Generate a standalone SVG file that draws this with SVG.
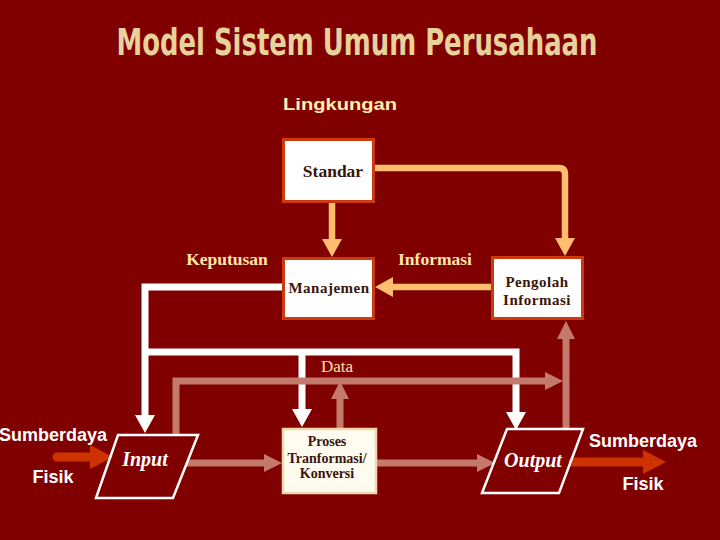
<svg xmlns="http://www.w3.org/2000/svg" width="720" height="540" viewBox="0 0 720 540">
<defs>
<style>
.box{fill:#ffffff;stroke:#cc3a10;stroke-width:3}
.proc{fill:#fffbf0;stroke:#f0d8a8;stroke-width:2.5}
.para{fill:none;stroke:#ffffff;stroke-width:2.5}
.bt{font-family:"Liberation Serif","Times New Roman",serif;fill:#3a1408;text-anchor:middle}
.lbl{font-family:"Liberation Serif","Times New Roman",serif;font-weight:bold;font-size:17.5px;fill:#ffe6a8;text-anchor:middle}
.io{font-family:"Liberation Serif","Times New Roman",serif;font-weight:bold;font-style:italic;font-size:20px;fill:#ffffff;text-anchor:middle}
.sd{font-family:"Liberation Sans",Arial,sans-serif;font-weight:bold;font-size:18px;fill:#ffffff;text-anchor:middle}
.or{fill:none;stroke:#ffbe6e;stroke-width:6.5}
.wh{fill:none;stroke:#ffffff;stroke-width:7}
.pk{fill:none;stroke:#c47a6a;stroke-width:7}
.rd{fill:none;stroke:#cc3300;stroke-width:9;stroke-linecap:round}
</style>
<marker id="hO" markerUnits="userSpaceOnUse" markerWidth="20" markerHeight="20" refX="0" refY="10" orient="auto" overflow="visible"><path d="M0,0 L18,10 L0,20 Z" fill="#ffbe6e"/></marker>
<marker id="hW" markerUnits="userSpaceOnUse" markerWidth="20" markerHeight="20" refX="0" refY="10" orient="auto" overflow="visible"><path d="M0,0 L18,10 L0,20 Z" fill="#ffffff"/></marker>
<marker id="hP" markerUnits="userSpaceOnUse" markerWidth="20" markerHeight="20" refX="0" refY="10" orient="auto" overflow="visible"><path d="M0,1 L18,10 L0,19 Z" fill="#c47a6a"/></marker>
<marker id="hR" markerUnits="userSpaceOnUse" markerWidth="24" markerHeight="24" refX="0" refY="12" orient="auto" overflow="visible"><path d="M0,0 L23,12 L0,24 Z" fill="#cc3300"/></marker>
</defs>
<rect width="720" height="540" fill="#800000"/>
<text transform="translate(357,55) scale(1,1.18)" x="0" y="0" font-family="'DejaVu Sans Condensed','Liberation Sans Narrow','DejaVu Sans',sans-serif" font-stretch="condensed" font-weight="bold" font-size="32" fill="#e8d29c" text-anchor="middle" textLength="481" lengthAdjust="spacingAndGlyphs">Model Sistem Umum Perusahaan</text>
<text x="340" y="110" font-family="'Liberation Sans',Arial,sans-serif" font-weight="bold" font-size="17" fill="#fff0b0" text-anchor="middle" textLength="114" lengthAdjust="spacingAndGlyphs">Lingkungan</text>

<g id="connectors">
<path class="or" d="M332,203 V239" marker-end="url(#hO)"/>
<path class="or" d="M375,168 H559 Q565,168 565,174 V238" marker-end="url(#hO)"/>
<path class="or" d="M491,287 H393" marker-end="url(#hO)"/>
<path class="wh" d="M282,287 H145 V415" marker-end="url(#hW)"/>
<path class="wh" d="M145,352 H516 V412" marker-end="url(#hW)"/>
<path class="wh" d="M302,352 V409" marker-end="url(#hW)"/>
<path class="pk" d="M176,435 V381 H545" marker-end="url(#hP)"/>
<path class="pk" d="M340,428 V399" marker-end="url(#hP)"/>
<path class="pk" d="M566,429 V339" marker-end="url(#hP)"/>
<path class="pk" d="M187,463 H264" marker-end="url(#hP)"/>
<path class="pk" d="M377,463 H477" marker-end="url(#hP)"/>
<path class="rd" d="M57,457 H90" marker-end="url(#hR)"/>
<path class="rd" d="M573,462 H643" marker-end="url(#hR)"/>
<text class="lbl" x="227" y="265">Keputusan</text>
<text class="lbl" x="435" y="265">Informasi</text>
<text x="337" y="372" font-family="'Liberation Serif','Times New Roman',serif" font-size="17" fill="#ffe0a8" text-anchor="middle">Data</text>
</g>

<g id="standar">
<rect class="box" x="283.5" y="139.5" width="90" height="62"/>
<text class="bt" x="333" y="177" font-size="17.5" font-weight="bold">Standar</text>
</g>
<g id="manajemen">
<rect class="box" x="283.5" y="258.5" width="90" height="60"/>
<text class="bt" x="329" y="293" font-size="15" font-weight="bold" letter-spacing="0.5">Manajemen</text>
</g>
<g id="pengolah">
<rect class="box" x="492.5" y="257.5" width="90" height="61"/>
<text class="bt" x="537" y="287" font-size="15" font-weight="bold" letter-spacing="0.5">Pengolah</text>
<text class="bt" x="537" y="305" font-size="15" font-weight="bold" letter-spacing="0.5">Informasi</text>
</g>
<g id="proses">
<rect class="proc" x="283" y="429" width="93" height="64"/>
<text class="bt" x="327" y="446" font-size="14" font-weight="bold">Proses</text>
<text class="bt" x="327" y="463" font-size="14" font-weight="bold">Tranformasi/</text>
<text class="bt" x="327" y="478" font-size="14" font-weight="bold">Konversi</text>
</g>
<g id="input">
<polygon class="para" points="118,435 198,435 173,498 96,498"/>
<text class="io" x="145" y="466">Input</text>
</g>
<g id="output">
<polygon class="para" points="507,429 583,429 559,493 482,493"/>
<text class="io" x="533" y="467">Output</text>
</g>
<g id="sumber-in">
<text class="sd" x="53" y="441">Sumberdaya</text>
<text class="sd" x="53" y="483">Fisik</text>
</g>
<g id="sumber-out">
<text class="sd" x="643" y="447">Sumberdaya</text>
<text class="sd" x="643" y="490">Fisik</text>
</g>
</svg>
